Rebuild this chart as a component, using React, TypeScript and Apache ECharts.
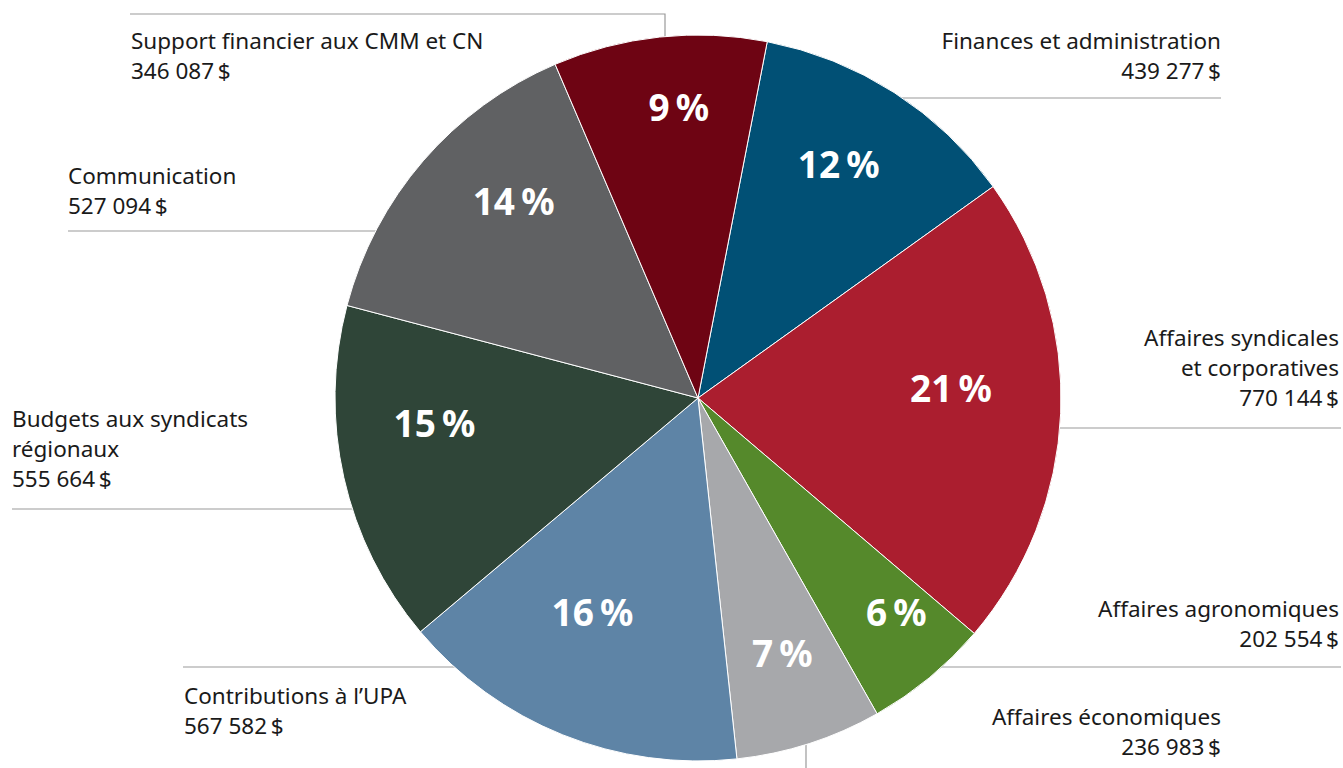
import React, { useEffect, useRef } from "react";
import * as echarts from "echarts";

// ---- data ----
const categories = [
  "Finances et administration",
  "Affaires syndicales et corporatives",
  "Affaires agronomiques",
  "Affaires économiques",
  "Contributions à l’UPA",
  "Budgets aux syndicats régionaux",
  "Communication",
  "Support financier aux CMM et CN",
];
const displayNames = [
  "Finances et administration",
  "Affaires syndicales\net corporatives",
  "Affaires agronomiques",
  "Affaires économiques",
  "Contributions à l’UPA",
  "Budgets aux syndicats\nrégionaux",
  "Communication",
  "Support financier aux CMM et CN",
];
const values = [439277, 770144, 202554, 236983, 567582, 555664, 527094, 346087];
const colors = ["#015075", "#ab1e2f", "#55892b", "#a7a8ab", "#5e84a6", "#2f4538", "#606163", "#6e0413"];

// ---- layout of the labels (annotation placement) ----
const CX = 698;
const CY = 398;
const R = 363;
const labelPlacement: { x: number; y: number; align: string; line: number[][] }[] = [
  { x: 1221, y: 25, align: "right", line: [[1221, 98], [CX, 98]] },
  { x: 1339, y: 322, align: "right", line: [[1341, 428], [CX, 428]] },
  { x: 1339, y: 593, align: "right", line: [[1341, 667], [CX, 667]] },
  { x: 1221, y: 701, align: "right", line: [[806, 800], [806, CY]] },
  { x: 184, y: 680, align: "left", line: [[183, 667], [CX, 667]] },
  { x: 12, y: 403, align: "left", line: [[12, 509], [CX, 509]] },
  { x: 68, y: 160, align: "left", line: [[68, 231], [CX, 231]] },
  { x: 131, y: 25, align: "left", line: [[130, 14], [665, 14], [665, CY]] },
];
// small nudges of the percentage labels from their default inside position
const innerNudge: number[][] = [
  [-8, -3],
  [-22, -22],
  [23, 1],
  [0, -7],
  [-3, -42],
  [5, -36],
  [24, -18],
  [10, -18],
];

const FONT = "'Noto Sans', 'Open Sans', sans-serif";

function fmtAmount(v: number): string {
  return String(v).replace(/\B(?=(\d{3})+(?!\d))/g, " ") + "\u202f$";
}

export default function App() {
  const ref = useRef<HTMLDivElement>(null);
  useEffect(() => {
    document.body.style.margin = "0";
    document.body.style.overflow = "hidden";
    if (!ref.current) return;
    const chart = echarts.init(ref.current, null, { renderer: "svg" });
    const transparent = "rgba(0,0,0,0)";
    const option: any = {
      animation: false,
      backgroundColor: "#ffffff",
      series: [
        {
          type: "pie",
          z: 1,
          silent: true,
          center: [CX, CY],
          radius: [0, R],
          startAngle: 79,
          avoidLabelOverlap: false,
          data: categories.map((n, i) => ({ name: n, value: values[i], itemStyle: { color: transparent } })),
          label: {
            show: true,
            position: "outside",
            formatter: (p: any) => displayNames[p.dataIndex] + "\n" + fmtAmount(p.value),
            fontFamily: FONT,
            fontSize: 22.5,
            lineHeight: 30,
            color: "#1a1a1a",
          },
          labelLine: { show: true, lineStyle: { color: "#9a9a9a", width: 1.2 } },
          labelLayout: (p: any) => {
            const pl = labelPlacement[p.dataIndex];
            return {
              x: pl.x,
              y: pl.y,
              align: pl.align,
              verticalAlign: "top",
              labelLinePoints: pl.line,
            };
          },
        },
        {
          type: "pie",
          z: 2,
          silent: true,
          center: [CX, CY],
          radius: [0, R],
          startAngle: 79,
          data: categories.map((n, i) => ({ name: n, value: values[i], itemStyle: { color: colors[i] } })),
          itemStyle: { borderColor: "#ffffff", borderWidth: 1 },
          label: { show: false },
          labelLine: { show: false },
        },
        {
          type: "pie",
          z: 3,
          silent: true,
          center: [CX, CY],
          radius: [R * 0.5, R],
          startAngle: 79,
          avoidLabelOverlap: false,
          data: categories.map((n, i) => ({ name: n, value: values[i], itemStyle: { color: transparent } })),
          label: {
            show: true,
            position: "inside",
            formatter: (p: any) => Math.round(p.percent) + "\u202f%",
            fontFamily: FONT,
            fontWeight: "bold",
            fontSize: 37,
            color: "#ffffff",
          },
          labelLine: { show: false },
          labelLayout: (p: any) => ({ dx: innerNudge[p.dataIndex][0], dy: innerNudge[p.dataIndex][1] }),
        },
      ],
    };
    chart.setOption(option);
    return () => chart.dispose();
  }, []);
  return <div ref={ref} style={{ width: 1343, height: 768 }} />;
}
